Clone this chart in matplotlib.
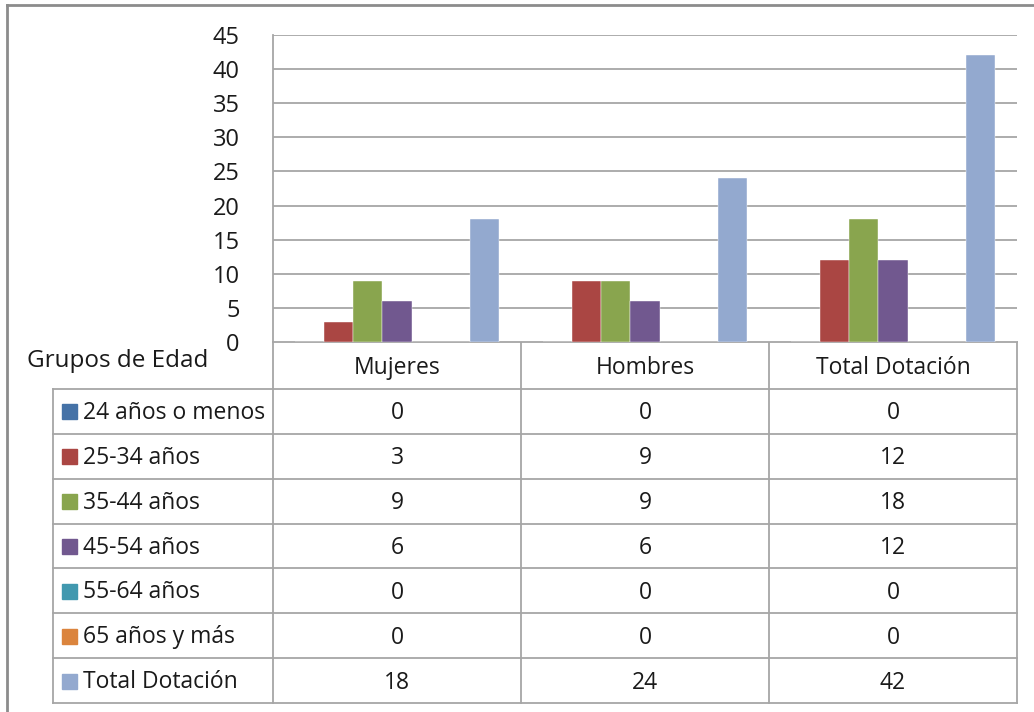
import numpy as np
import matplotlib.pyplot as plt

# Datos
categorias = ['Mujeres', 'Hombres', 'Total Dotación']
grupos = ['24 años o menos', '25-34 años', '35-44 años', '45-54 años',
          '55-64 años', '65 años y más', 'Total Dotación']
edad_24 = [0, 0, 0]
edad_25_34 = [3, 9, 12]
edad_35_44 = [9, 9, 18]
edad_45_54 = [6, 6, 12]
edad_55_64 = [0, 0, 0]
edad_65 = [0, 0, 0]
total_dotacion = [18, 24, 42]
series = [edad_24, edad_25_34, edad_35_44, edad_45_54, edad_55_64, edad_65, total_dotacion]
yticks = list(range(0, 50, 5))

colores = ['#4572A7', '#AA4643', '#89A54E', '#71588F', '#4198AF', '#DB843D', '#93A9CF']

plt.rcParams['font.family'] = ['Open Sans', 'DejaVu Sans']
W, H = 1034, 712
fig = plt.figure(figsize=(W / 100, H / 100), dpi=100)
fig.patch.set_facecolor('white')

# Area de grafico (pixeles)
x0, x1 = 273, 1017
y_top, y_zero = 35, 342
ax = fig.add_axes([x0 / W, 1 - y_zero / H, (x1 - x0) / W, (y_zero - y_top) / H])

x = np.arange(len(categorias))
ancho = 0.117
for i, (vals, col) in enumerate(zip(series, colores)):
    ax.bar(x + (i - 3) * ancho, vals, width=ancho, color=col,
           edgecolor='white', linewidth=0.3, zorder=3)

ax.set_xlim(-0.5, len(categorias) - 0.5)
ax.set_ylim(0, 45)
ax.set_yticks(yticks)
ax.set_xticks([])
ax.tick_params(axis='y', length=0, pad=24, labelsize=17, labelcolor='#1a1a1a')
ax.yaxis.grid(True, color='#A6A6A6', linewidth=1.3, zorder=0)
ax.set_axisbelow(True)
for lado in ['top', 'right', 'bottom']:
    ax.spines[lado].set_visible(False)
ax.spines['left'].set_color('#A6A6A6')
ax.spines['left'].set_linewidth(1.3)

# Tabla de datos
tax = fig.add_axes([0, 0, 1, 1], zorder=-1)
tax.set_xlim(0, W)
tax.set_ylim(H, 0)
tax.axis('off')

gris = '#A6A6A6'
lw = 1.3
tx0 = 53
header_bot = 389
fila_h = (703 - header_bot) / len(grupos)
col_w = (x1 - x0) / len(categorias)
fs = 16.5

# marco exterior
tax.plot([7, 7], [5, H], color='#8C8C8C', lw=2)
tax.plot([7, W], [5, 5], color='#8C8C8C', lw=2)

# encabezado
tax.plot([x0, x1], [y_zero, y_zero], color=gris, lw=lw)
for j in range(len(categorias) + 1):
    xc = x0 + j * col_w
    tax.plot([xc, xc], [y_zero, 703], color=gris, lw=lw)
for j, cat in enumerate(categorias):
    tax.text(x0 + (j + 0.5) * col_w, (y_zero + header_bot) / 2 + 2, cat,
             ha='center', va='center', fontsize=fs, color='#1a1a1a')

tax.text(27, 361, 'Grupos de Edad', ha='left', va='center', fontsize=17.5, color='#1a1a1a')

# filas
for k in range(len(grupos) + 1):
    yy = header_bot + k * fila_h
    tax.plot([tx0, x1], [yy, yy], color=gris, lw=lw)
tax.plot([tx0, tx0], [header_bot, 703], color=gris, lw=lw)

for k, (g, vals, col) in enumerate(zip(grupos, series, colores)):
    yc = header_bot + (k + 0.5) * fila_h
    tax.add_patch(plt.Rectangle((62, yc - 7), 15, 15, color=col))
    tax.text(83, yc + 1.5, g, ha='left', va='center', fontsize=fs, color='#1a1a1a')
    for j, v in enumerate(vals):
        tax.text(x0 + (j + 0.5) * col_w, yc + 2, str(v), ha='center', va='center',
                 fontsize=fs, color='#1a1a1a')

fig.savefig('out.png', dpi=100)
